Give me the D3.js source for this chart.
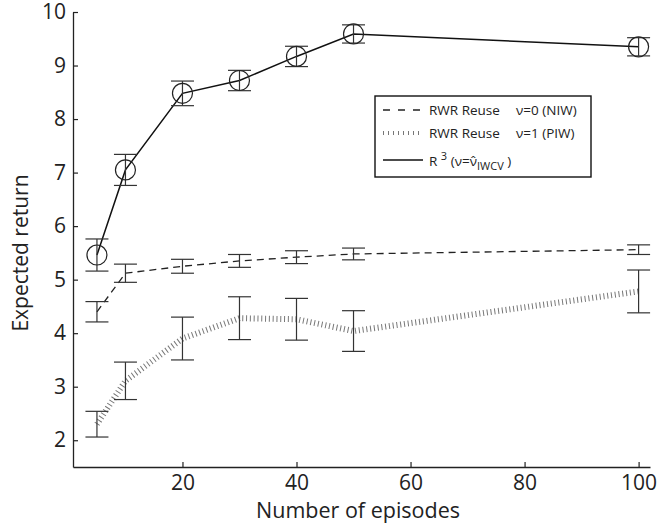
<!DOCTYPE html>
<html>
<head>
<meta charset="utf-8">
<script src="https://cdn.jsdelivr.net/npm/d3@7"></script>
<style>
body { margin: 0; background: #fff; }
svg text { font-family: "Open Sans", "Noto Sans", sans-serif; fill: #222; }
</style>
</head>
<body>
<svg id="chart" width="660" height="529"></svg>
<script>
// data
var episodes = [5, 10, 20, 30, 40, 50, 100];
var niwMean = [4.40, 5.12, 5.25, 5.35, 5.42, 5.48, 5.56];
var niwErr  = [0.19, 0.17, 0.13, 0.12, 0.12, 0.11, 0.09];
var piwMean = [2.30, 3.11, 3.90, 4.28, 4.26, 4.04, 4.78];
var piwErr  = [0.24, 0.35, 0.40, 0.40, 0.39, 0.38, 0.40];
var r3Mean  = [5.46, 7.05, 8.48, 8.72, 9.17, 9.59, 9.35];
var r3Err   = [0.30, 0.29, 0.23, 0.19, 0.19, 0.17, 0.17];
var xTicks = [20, 40, 60, 80, 100];
var yTicks = [2, 3, 4, 5, 6, 7, 8, 9, 10];

var svg = d3.select("#chart");
var x = d3.scaleLinear().domain([0.8, 102]).range([73, 650]);
var y = d3.scaleLinear().domain([1.5, 10]).range([467, 12]);

// axes, ticks inside like matlab
var xAxis = svg.append("g").attr("transform", "translate(0," + y(1.5) + ")")
    .call(d3.axisBottom(x).tickValues(xTicks).tickSizeInner(-5).tickSizeOuter(0).tickPadding(10));
var yAxis = svg.append("g").attr("transform", "translate(" + x(0.8) + ",0)")
    .call(d3.axisLeft(y).tickValues(yTicks).tickSizeInner(-5).tickSizeOuter(0).tickPadding(7));
[xAxis, yAxis].forEach(function(a){
    a.select(".domain").attr("stroke", "#222").attr("stroke-width", 1.3);
    a.selectAll(".tick line").attr("stroke", "#222").attr("stroke-width", 1.2);
    a.selectAll(".tick text").style("font-size", "21px").attr("fill", "#222");
});
xAxis.selectAll(".tick text").attr("dy", "0.6em");

svg.append("text").attr("x", 358).attr("y", 518).attr("text-anchor", "middle")
    .style("font-size", "21.5px").text("Number of episodes");
svg.append("text").attr("transform", "translate(28,253) rotate(-90)").attr("text-anchor", "middle")
    .style("font-size", "21px").text("Expected return");

function rows(m, e){
    return episodes.map(function(ep, i){ return {x: ep, y: m[i], e: e[i]}; });
}
var line = d3.line().x(function(d){return x(d.x);}).y(function(d){return y(d.y);});

function errorBars(data){
    var g = svg.append("g").attr("stroke", "#333").attr("stroke-width", 1.2);
    data.forEach(function(d){
        g.append("line").attr("x1", x(d.x)).attr("x2", x(d.x)).attr("y1", y(d.y - d.e)).attr("y2", y(d.y + d.e));
        [d.y - d.e, d.y + d.e].forEach(function(v){
            g.append("line").attr("x1", x(d.x) - 11.5).attr("x2", x(d.x) + 11.5).attr("y1", y(v)).attr("y2", y(v));
        });
    });
}

var niw = rows(niwMean, niwErr), piw = rows(piwMean, piwErr), r3 = rows(r3Mean, r3Err);

// PIW: dotted line drawn as small perpendicular ticks
svg.append("path").datum(piw).attr("d", line).attr("fill", "none")
    .attr("stroke", "#777").attr("stroke-width", 6).attr("stroke-dasharray", "1,2.8");
errorBars(piw);

svg.append("path").datum(niw).attr("d", line).attr("fill", "none")
    .attr("stroke", "#222").attr("stroke-width", 1.3).attr("stroke-dasharray", "7,5");
errorBars(niw);

svg.append("path").datum(r3).attr("d", line).attr("fill", "none")
    .attr("stroke", "#111").attr("stroke-width", 1.5);
errorBars(r3);
svg.selectAll(".marker").data(r3).enter().append("circle").attr("class", "marker")
    .attr("cx", function(d){return x(d.x);}).attr("cy", function(d){return y(d.y);})
    .attr("r", 10).attr("fill", "none").attr("stroke", "#222").attr("stroke-width", 1.2);

// legend
var lg = svg.append("g");
lg.append("rect").attr("x", 375).attr("y", 96).attr("width", 216).attr("height", 81)
    .attr("fill", "#fff").attr("stroke", "#111").attr("stroke-width", 1.4);
lg.append("line").attr("x1", 383).attr("x2", 423).attr("y1", 110).attr("y2", 110)
    .attr("stroke", "#222").attr("stroke-width", 1.3).attr("stroke-dasharray", "7,8");
lg.append("line").attr("x1", 383).attr("x2", 423).attr("y1", 133).attr("y2", 133)
    .attr("stroke", "#777").attr("stroke-width", 4).attr("stroke-dasharray", "1,4");
lg.append("line").attr("x1", 383).attr("x2", 423).attr("y1", 160).attr("y2", 160)
    .attr("stroke", "#111").attr("stroke-width", 1.3);
var fs = "13.5px";
lg.append("text").attr("x", 429).attr("y", 115).style("font-size", fs).text("RWR Reuse");
lg.append("text").attr("x", 516).attr("y", 115).style("font-size", fs).text("ν=0 (NIW)");
lg.append("text").attr("x", 429).attr("y", 138).style("font-size", fs).text("RWR Reuse");
lg.append("text").attr("x", 516).attr("y", 138).style("font-size", fs).text("ν=1 (PIW)");
var t3 = lg.append("text").attr("x", 429).attr("y", 166).style("font-size", fs);
t3.append("tspan").text("R ");
t3.append("tspan").attr("dy", -6).style("font-size", "11px").text("3");
t3.append("tspan").attr("dy", 6).text(" (ν=");
t3.append("tspan").text("ν\u0302");
t3.append("tspan").attr("dy", 4).style("font-size", "11px").text("IWCV");
t3.append("tspan").attr("dy", -4).text(" )");
</script>
</body>
</html>
